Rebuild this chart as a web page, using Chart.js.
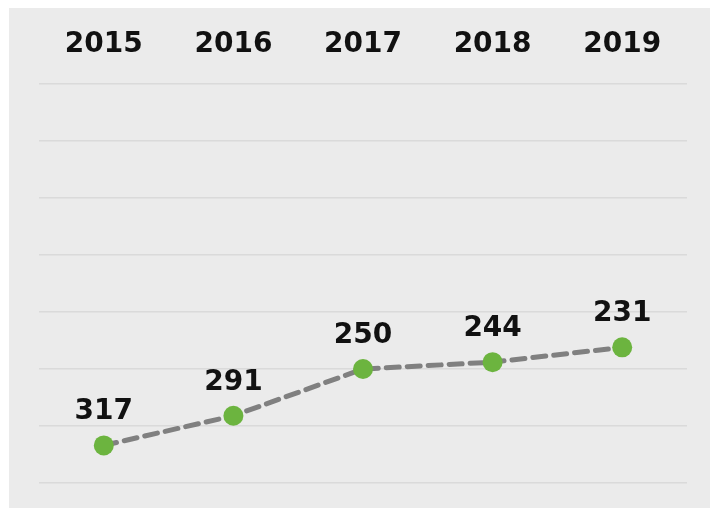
<!DOCTYPE html>
<html>
<head>
<meta charset="utf-8">
<script src="https://cdn.jsdelivr.net/npm/chart.js@4"></script>
<style>
  body { margin: 0; background: #fff; }
  #wrap { width: 710px; height: 508px; }
</style>
</head>
<body>
<div id="wrap"><canvas id="lineChart" width="710" height="508"></canvas></div>
<script>
const years = ['2015', '2016', '2017', '2018', '2019'];
const counts = [317, 291, 250, 244, 231];
const yTicks = { min: 0, max: 350, step: 50 };

// gray panel behind the chart
const panelBg = {
    id: 'panelBg',
    beforeDraw(chart) {
        const c = chart.ctx;
        c.save();
        c.fillStyle = '#ffffff';
        c.fillRect(0, 0, chart.width, chart.height);
        c.fillStyle = '#ebebeb';
        c.fillRect(9, 8, chart.width - 9, chart.height - 8);
        c.restore();
    }
};

// value labels above each point
const valueLabels = {
    id: 'valueLabels',
    afterDatasetsDraw(chart) {
        const c = chart.ctx;
        const meta = chart.getDatasetMeta(0);
        c.save();
        c.font = 'bold 28px "DejaVu Sans", sans-serif';
        c.fillStyle = '#111111';
        c.textAlign = 'center';
        c.textBaseline = 'alphabetic';
        meta.data.forEach((pt, i) => {
            c.fillText(String(counts[i]), pt.x, pt.y - 26);
        });
        c.restore();
    }
};

const ctx = document.getElementById('lineChart').getContext('2d');
new Chart(ctx, {
    type: 'line',
    data: {
        labels: years,
        datasets: [{
            data: counts,
            borderColor: '#808080',
            borderWidth: 5,
            borderDash: [13, 8],
            borderCapStyle: 'round',
            pointBackgroundColor: '#6cb43f',
            pointBorderWidth: 0,
            pointRadius: 10,
            tension: 0
        }]
    },
    options: {
        responsive: false,
        animation: false,
        layout: { padding: { left: 39, right: 23, top: 0, bottom: 25 } },
        plugins: {
            legend: { display: false },
            tooltip: { enabled: false }
        },
        scales: {
            x: {
                position: 'top',
                offset: true,
                grid: { display: false, drawTicks: false },
                border: { display: false },
                ticks: {
                    color: '#111111',
                    padding: 22,
                    font: { family: '"DejaVu Sans", sans-serif', size: 28, weight: 'bold' }
                },
                afterFit(scale) { scale.height = 84; }
            },
            y: {
                reverse: true,
                min: yTicks.min,
                max: yTicks.max,
                border: { display: false },
                grid: { color: '#dadada', lineWidth: 1.5, drawTicks: false },
                ticks: { display: false, stepSize: yTicks.step }
            }
        }
    },
    plugins: [panelBg, valueLabels]
});
</script>
</body>
</html>
